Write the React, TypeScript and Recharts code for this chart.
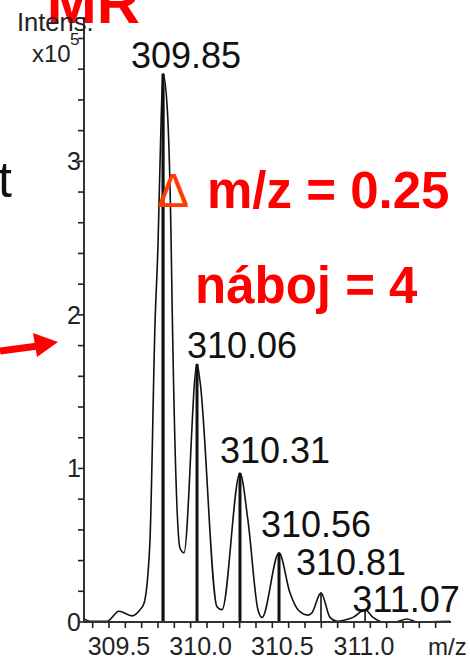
import React from "react";
import { ComposedChart, Line, XAxis, YAxis, ReferenceLine } from "recharts";

// profile spectrum, m/z vs intensity (x10^5)
const mzValues = [
  309.347, 309.384, 309.488, 309.561, 309.641, 309.69, 309.714, 309.739, 309.751,
  309.782, 309.8, 309.82, 309.831, 309.857, 309.88, 309.886, 309.935, 309.959,
  310.039, 310.057, 310.161, 310.192, 310.302, 310.351, 310.412, 310.437, 310.541,
  310.608, 310.657, 310.719, 310.743, 310.798, 310.853, 310.896, 310.945, 310.994,
  311.068, 311.117, 311.172, 311.251, 311.325, 311.386, 311.588,
];
const intensities = [
  0.02, 0.005, 0.005, 0.07, 0.04, 0.08, 0.12, 0.32, 0.53,
  1.95, 2.45, 3.3, 3.57, 3.34, 2.5, 2.1, 0.48, 0.45,
  1.68, 1.57, 0.1, 0.08, 0.97, 0.66, 0.08, 0.03, 0.45,
  0.19, 0.08, 0.045, 0.06, 0.19, 0.03, 0.005, 0.013, 0.03,
  0.08, 0.03, 0.0, 0.0, 0.02, 0.0, 0.005,
];

// centroid sticks
const peakMz = [309.831, 310.039, 310.302, 310.541, 310.798, 311.068];
const peakHeights = [3.57, 1.68, 0.97, 0.45, 0.19, 0.08];
const peakLabels = ["309.85", "310.06", "310.31", "310.56", "310.81", "311.07"];

const xTicks = [
  309.4, 309.5, 309.6, 309.7, 309.8, 309.9, 310.0, 310.1, 310.2, 310.3, 310.4,
  310.5, 310.6, 310.7, 310.8, 310.9, 311.0, 311.1, 311.2, 311.3, 311.4, 311.5,
];
const xLabelValues = [309.5, 310.0, 310.5, 311.0];
const xLabelTexts = ["309.5", "310.0", "310.5", "311.0"];

const yTicks = [
  0, 0.2, 0.4, 0.6, 0.8, 1, 1.2, 1.4, 1.6, 1.8, 2, 2.2, 2.4, 2.6, 2.8, 3, 3.2,
  3.4, 3.6, 3.8,
];
const yLabelValues = [0, 1, 2, 3];
const yLabelTexts = ["0", "1", "2", "3"];

const profile = mzValues.map((mz, i) => ({ mz, intensity: intensities[i] }));

// label placement relative to stick top
const labelDx = [23, 45, 35, 37, 30, 41];
const labelDy = [-6, -6, -10, -16, -18, 2];
const stickWidth = [3.2, 3, 3, 3, 1.6, 1.6];

const FONT = "'Liberation Sans', Arial, sans-serif";

const XTick = (props: any) => {
  const { x, y, payload } = props;
  const i = xLabelValues.findIndex((v) => Math.abs(v - payload.value) < 1e-6);
  if (i < 0) return null;
  return (
    <text x={x + 10} y={y + 25} textAnchor="middle" fontSize={25} fill="#222" fontFamily={FONT}>
      {xLabelTexts[i]}
    </text>
  );
};

const YTick = (props: any) => {
  const { x, y, payload } = props;
  const i = yLabelValues.findIndex((v) => Math.abs(v - payload.value) < 1e-6);
  if (i < 0) return null;
  return (
    <text x={x + 5} y={y + 9} textAnchor="end" fontSize={25} fill="#222" fontFamily={FONT}>
      {yLabelTexts[i]}
    </text>
  );
};

const App = () => {
  return (
    <div style={{ position: "absolute", left: 0, top: 0, width: 470, height: 658, background: "#fff" }}>
      <ComposedChart
        width={470}
        height={658}
        data={profile}
        margin={{ top: 17, right: 19, bottom: 0, left: 0 }}
      >
        <XAxis
          dataKey="mz"
          type="number"
          domain={[309.347, 311.594]}
          allowDataOverflow
          ticks={xTicks}
          interval={0}
          height={36}
          tickSize={6}
          tickMargin={2}
          tick={<XTick />}
          axisLine={{ stroke: "#333", strokeWidth: 2 }}
          tickLine={{ stroke: "#222", strokeWidth: 1.6 }}
        />
        <XAxis
          xAxisId="top"
          orientation="top"
          dataKey="mz"
          type="number"
          domain={[309.347, 311.594]}
          allowDataOverflow
          height={0}
          tick={false}
          tickLine={false}
          axisLine={{ stroke: "#111", strokeWidth: 2.5 }}
        />
        <YAxis
          type="number"
          domain={[0, 3.94]}
          allowDataOverflow
          ticks={yTicks}
          interval={0}
          width={84}
          tickSize={6}
          tickMargin={2}
          tick={<YTick />}
          axisLine={{ stroke: "#333", strokeWidth: 2 }}
          tickLine={{ stroke: "#222", strokeWidth: 1.6 }}
        />
        <YAxis
          yAxisId="right"
          orientation="right"
          type="number"
          domain={[0, 3.94]}
          width={0}
          tick={false}
          tickLine={false}
          axisLine={{ stroke: "#111", strokeWidth: 2.5 }}
        />
        {peakMz.map((mz, i) => (
          <ReferenceLine
            key={`stick-${i}`}
            segment={[
              { x: mz, y: 0 },
              { x: mz, y: peakHeights[i] },
            ]}
            stroke="#111"
            strokeWidth={stickWidth[i]}
            ifOverflow="visible"
            label={(p: any) => {
              const vb = p.viewBox || {};
              return (
                <text
                  x={(vb.x || 0) + labelDx[i]}
                  y={(vb.y || 0) + labelDy[i]}
                  textAnchor="middle"
                  fontSize={36}
                  fill="#111"
                  fontFamily={FONT}
                >
                  {peakLabels[i]}
                </text>
              );
            }}
          />
        ))}
        <Line
          type="monotone"
          dataKey="intensity"
          stroke="#111"
          strokeWidth={1.6}
          dot={false}
          activeDot={false}
          isAnimationActive={false}
        />
      </ComposedChart>
      <svg
        width={470}
        height={658}
        style={{ position: "absolute", left: 0, top: 0, pointerEvents: "none" }}
      >
        <text x={140} y={23} textAnchor="end" fontSize={60} fontWeight="bold" fill="#ff0000" fontFamily={FONT}>
          MR
        </text>
        <text x={17} y={31} fontSize={25.5} fill="#222" fontFamily={FONT}>
          Intens.
        </text>
        <text x={32} y={62} fontSize={24} fill="#222" fontFamily={FONT}>
          x10
        </text>
        <text x={70} y={45} fontSize={17} fill="#222" fontFamily={FONT}>
          5
        </text>
        <text x={428} y={655} fontSize={24} fill="#222" fontFamily={FONT}>
          m/z
        </text>
        <text x={-2} y={197} fontSize={50} fill="#111" fontFamily={FONT}>
          t
        </text>
        <text x={157} y={207} fontSize={48} fill="#ff3c00" fontFamily={FONT}>
          Δ
        </text>
        <text x={207} y={208} fontSize={51} fontWeight="bold" fill="#ff0000" fontFamily={FONT}>
          m/z = 0.25
        </text>
        <text x={195} y={303} fontSize={51} fontWeight="bold" fill="#ff0000" fontFamily={FONT}>
          náboj = 4
        </text>
        <line x1={0} y1={351} x2={38} y2={346} stroke="#ff0000" strokeWidth={7} />
        <polygon points="33,333 58,342 37,357" fill="#ff0000" />
      </svg>
    </div>
  );
};

export default App;
